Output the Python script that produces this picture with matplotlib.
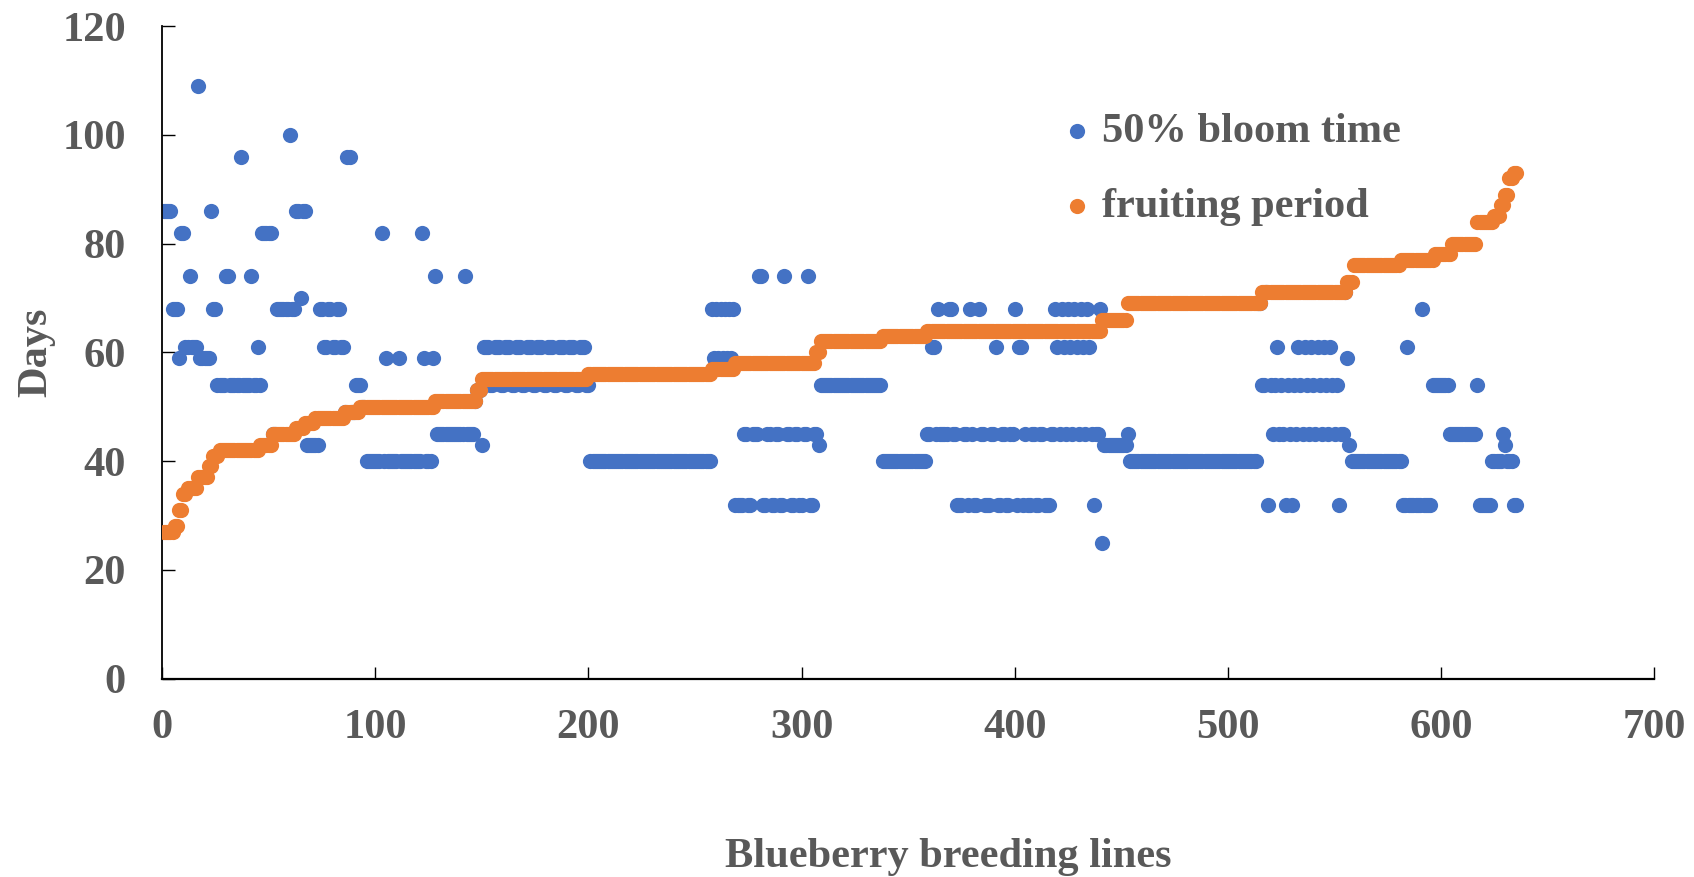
import numpy as np
import matplotlib
matplotlib.use("Agg")
import matplotlib.pyplot as plt

# Office-style colours from the original chart
BLUE = "#4472C4"
ORANGE = "#ED7D31"
GREY = "#595959"

# 50% bloom time per breeding line, stored as (days, number of consecutive lines)
bloom_runs = [
    (86, 4), (68, 3), (59, 1), (82, 2), (61, 2), (74, 1), (61, 3), (109, 1), (59, 5), (86, 1),
    (68, 2), (54, 4), (74, 2), (54, 5), (96, 1), (54, 4), (74, 1), (54, 2), (61, 1), (54, 1),
    (82, 5), (45, 2), (68, 6), (100, 1), (68, 2), (86, 2), (70, 1), (86, 2), (43, 6),
    (68, 2), (61, 2), (68, 2), (61, 2), (68, 2), (61, 2), (49, 1), (96, 2), (49, 2), (54, 3), (50, 2),
    # lines 96-150
    (40, 7), (82, 1), (40, 1), (59, 1), (40, 5), (59, 1), (40, 10), (82, 1), (59, 1), (40, 3),
    (59, 1), (74, 1), (45, 13), (74, 1), (45, 4), (51, 1), (53, 2), (43, 1),
    # lines 151-200
    (61, 3), (54, 2), (61, 3), (54, 2), (61, 3), (54, 2), (61, 3), (54, 2), (61, 3), (54, 2),
    (61, 3), (54, 2), (61, 3), (54, 2), (61, 3), (54, 2), (61, 3), (54, 2), (61, 3), (54, 2),
    # lines 201-268
    (40, 57),
    (68, 1), (59, 1), (68, 1), (59, 1), (68, 1), (59, 1), (68, 1), (59, 1), (68, 1), (59, 1), (68, 1),
    # lines 269-358
    (32, 4), (45, 2), (32, 2), (45, 3), (74, 2), (32, 2), (45, 2), (32, 2), (45, 2), (32, 2),
    (74, 1), (45, 2), (32, 2), (45, 2), (32, 2), (45, 2), (74, 1), (32, 2), (45, 2), (43, 1),
    (54, 29), (40, 21),
    # lines 359-440
    (45, 2), (61, 2), (45, 1), (68, 1), (45, 4), (68, 2), (45, 2), (32, 3), (45, 2), (32, 1),
    (68, 1), (45, 1), (32, 2), (68, 1), (45, 2), (32, 3), (45, 2), (61, 1), (32, 2), (45, 2),
    (32, 2), (45, 2), (68, 1), (32, 1), (61, 2), (32, 1), (45, 1), (32, 2), (45, 2), (32, 2),
    (45, 2), (32, 3), (45, 2),
    (68, 1), (61, 1), (45, 1), (68, 1), (61, 1), (45, 1), (68, 1), (61, 1), (45, 1),
    (68, 1), (61, 1), (45, 1), (68, 1), (61, 1), (45, 1), (68, 1), (61, 1), (45, 1),
    (32, 1), (45, 2), (68, 1),
    # lines 441-515
    (25, 1), (43, 11), (45, 1), (40, 60), (69, 2),
    # lines 516-557
    (54, 2), (71, 1), (32, 1), (54, 1), (45, 1), (54, 1), (61, 1), (45, 1), (54, 1), (45, 1),
    (32, 1), (54, 1), (45, 1), (32, 1), (54, 1), (45, 1),
    (61, 1), (54, 1), (45, 1), (61, 1), (54, 1), (45, 1), (61, 1), (54, 1), (45, 1),
    (61, 1), (54, 1), (45, 1), (61, 1), (54, 1), (45, 1), (61, 1), (54, 1), (45, 1),
    (54, 1), (32, 1), (45, 2), (71, 1), (59, 1), (43, 1),
    # lines 558-635
    (40, 24), (32, 2), (61, 1), (32, 6), (68, 1), (32, 4), (54, 8), (45, 13), (54, 1), (32, 6),
    (40, 5), (45, 1), (43, 1), (40, 3), (32, 2),
]

# fruiting period, sorted ascending, stored the same way
fruit_runs = [
    (27, 5), (28, 2), (31, 2), (34, 2), (35, 5), (37, 5), (39, 2), (41, 3), (42, 19), (43, 6),
    (45, 11), (46, 4), (47, 5), (48, 14), (49, 7), (50, 35), (51, 20), (53, 2), (55, 50), (56, 58),
    (57, 11), (58, 38), (60, 2), (62, 29), (63, 21), (64, 82), (66, 12), (69, 63), (71, 40), (73, 3),
    (76, 22), (77, 16), (78, 8), (80, 12), (84, 8), (85, 3), (87, 2), (89, 2), (92, 2), (93, 2),
]

x_ticks = [0, 100, 200, 300, 400, 500, 600, 700]
y_ticks = [0, 20, 40, 60, 80, 100, 120]


def expand(runs):
    vals = [v for v, n in runs]
    reps = [n for v, n in runs]
    return np.repeat(vals, reps)


def main():
    bloom = expand(bloom_runs)
    fruit = expand(fruit_runs)
    x_bloom = np.arange(1, len(bloom) + 1)
    x_fruit = np.arange(1, len(fruit) + 1)

    plt.rcParams['font.family'] = ['Liberation Serif', 'DejaVu Serif']
    plt.rcParams['font.weight'] = 'bold'

    fig = plt.figure(figsize=(16.94, 8.77), dpi=100)
    ax = fig.add_axes([0.0956, 0.2263, 0.881, 0.744])

    ax.scatter(x_bloom, bloom, s=120, color=BLUE, linewidths=0, label='50% bloom time', zorder=2)
    ax.scatter(x_fruit, fruit, s=120, color=ORANGE, linewidths=0, label='fruiting period', zorder=3)

    ax.set_xlim(0, 700)
    ax.set_ylim(0, 120)
    ax.set_xticks(x_ticks)
    ax.set_yticks(y_ticks)

    for side in ['top', 'right']:
        ax.spines[side].set_visible(False)
    ax.spines['left'].set_linewidth(1.3)
    ax.spines['bottom'].set_linewidth(1.6)

    ax.tick_params(axis='both', direction='in', length=9, width=1.0, colors='black',
                   labelsize=30.5, labelcolor=GREY)
    ax.tick_params(axis='y', pad=26)
    ax.tick_params(axis='x', pad=22)
    for lab in ax.get_xticklabels() + ax.get_yticklabels():
        lab.set_fontweight('bold')

    ax.set_xlabel('Blueberry breeding lines', fontsize=30.5, fontweight='bold', color=GREY)
    ax.set_ylabel('Days', fontsize=30.5, fontweight='bold', color=GREY)
    ax.xaxis.set_label_coords(0.527, -0.245)
    ax.yaxis.set_label_coords(-0.0716, 0.5)

    leg = ax.legend(loc='upper left', bbox_to_anchor=(0.6045, 0.868), frameon=False,
                    fontsize=30.5, handlelength=0.6, handletextpad=0.3, labelspacing=0.86,
                    borderpad=0, borderaxespad=0)
    for t in leg.get_texts():
        t.set_color(GREY)
        t.set_fontweight('bold')

    fig.savefig('out.png', dpi=100)
    plt.close(fig)


if __name__ == "__main__":
    main()
